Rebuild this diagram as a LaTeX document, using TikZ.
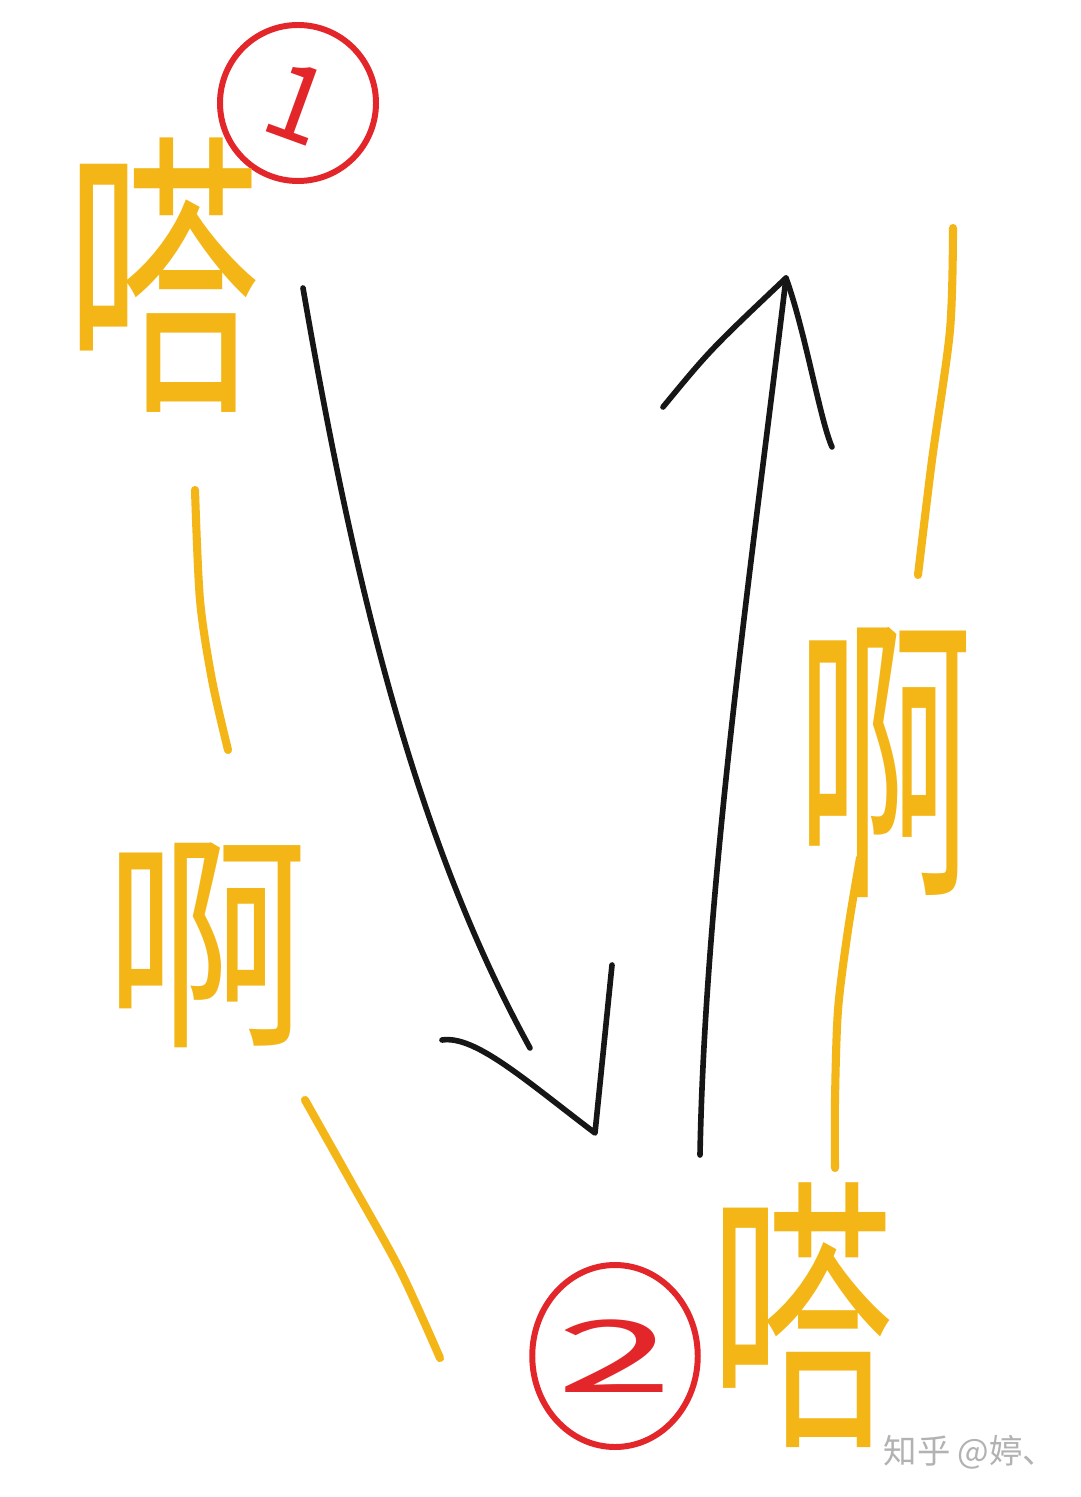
\documentclass[tikz,border=0pt]{standalone}
\usepackage{fontspec}
\usepackage{graphicx}
\usepackage{tikz}
\usetikzlibrary{shapes.geometric}
\newfontfamily\hanzi{Noto Sans CJK SC}
\definecolor{penyellow}{RGB}{244,182,22}
\definecolor{penred}{RGB}{226,38,42}
\definecolor{penblack}{RGB}{22,22,22}
\newcommand{\sndda}{嗒}
\newcommand{\sndah}{啊}

\begin{document}
\begin{tikzpicture}[x=0.1mm,y=-0.1mm,
    yellowpen/.style={penyellow,line width=2.3pt,line cap=round,line join=round},
    blackpen/.style={penblack,line width=1.6pt,line cap=round,line join=round},
    redring/.style={draw=penred,line width=1.7pt,ellipse,inner sep=0pt,
      text=penred,font=\hanzi\fontsize{30pt}{30pt}\selectfont},
    sound/.style={text=penyellow,inner sep=0pt,font=\hanzi\fontsize{60pt}{60pt}\selectfont}]
  %page
  \fill[white] (0,0) rectangle (1080,1497);
  \useasboundingbox (0,0) rectangle (1080,1497);

  %circled numbers
  \node[redring,minimum width=15.6mm,minimum height=15.6mm] (one) at (298,103) {\raisebox{5pt}{\rotatebox{-20}{1}}};
  \node[redring,minimum width=16mm,minimum height=18.2mm] (two) at (615,1356) {\raisebox{-2pt}{\scalebox{2}[0.95]{2}}\hspace{6pt}};

  %sounds, left column
  \node[sound] (da1) at (163,275) {\scalebox{0.92}[1.42]{\sndda}};
  \draw[yellowpen] plot[smooth] coordinates {(195,490) (200,600) (212,680) (228,750)};
  \node[sound] (ah1) at (207,945) {\scalebox{0.97}[1.1]{\sndah}};
  \draw[yellowpen] plot[smooth] coordinates {(305,1100) (350,1180) (400,1270) (440,1358)};

  %sounds, right column
  \node[sound] (da2) at (802,1315) {\scalebox{0.87}[1.37]{\sndda}};
  \draw[yellowpen] plot[smooth] coordinates {(860,858) (848,930) (838,1010) (835,1100) (835,1168)};
  \node[sound] (ah2) at (885,762) {\scalebox{0.84}[1.45]{\sndah}};
  \draw[yellowpen] plot[smooth] coordinates {(953,228) (950,330) (932,460) (918,575)};

  %arrow down
  \coordinate (a1s) at (303,288);
  \coordinate (a1e) at (530,1048);
  \coordinate (h1l) at (442,1040);
  \coordinate (h1t) at (595,1133);
  \coordinate (h1r) at (612,965);
  \draw[blackpen] (a1s) .. controls (350,560) and (410,830) .. (a1e);
  \draw[blackpen] (h1l) .. controls (475,1035) and (525,1080) .. (h1t) -- (h1r);

  %arrow up
  \coordinate (a2s) at (700,1155);
  \coordinate (a2e) at (786,278);
  \coordinate (h2l) at (663,407);
  \coordinate (h2r) at (832,447);
  \draw[blackpen] (a2s) .. controls (705,880) and (755,540) .. (a2e);
  \draw[blackpen] (h2l) .. controls (710,350) .. (a2e) .. controls (805,330) and (820,420) .. (h2r);

  %watermark
  \node[text=black!30,inner sep=0pt,font=\hanzi\fontsize{9.5pt}{9.5pt}\selectfont] (mark) at (970,1452) {知乎 @婷、};
\end{tikzpicture}
\end{document}
